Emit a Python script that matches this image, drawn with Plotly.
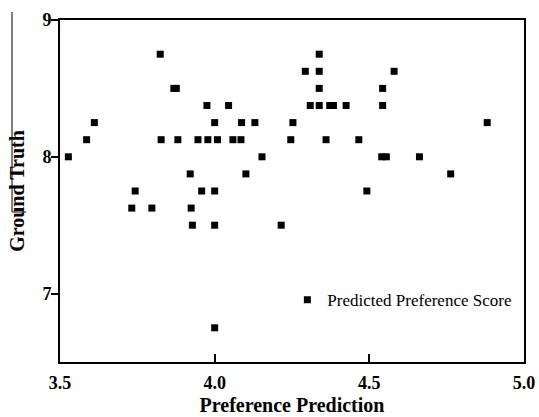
import plotly.graph_objects as go

pred = [3.527, 3.586, 3.611, 3.732, 3.743, 3.797, 3.824, 3.827, 3.868, 3.876,
        3.881, 3.921, 3.924, 3.928, 3.946, 3.958, 3.975, 3.978, 4.0, 4.0,
        4.0, 4.0, 4.009, 4.045, 4.059, 4.085, 4.087, 4.101, 4.13, 4.153,
        4.215, 4.246, 4.253, 4.293, 4.309, 4.338, 4.338, 4.338, 4.338, 4.36,
        4.372, 4.384, 4.425, 4.466, 4.492, 4.543, 4.543, 4.54, 4.555, 4.58,
        4.662, 4.763, 4.881]
truth = [8.0, 8.125, 8.25, 7.625, 7.75, 7.625, 8.75, 8.125, 8.5, 8.5,
         8.125, 7.875, 7.625, 7.5, 8.125, 7.75, 8.375, 8.125, 8.25, 7.75,
         7.5, 6.75, 8.125, 8.375, 8.125, 8.125, 8.25, 7.875, 8.25, 8.0,
         7.5, 8.125, 8.25, 8.625, 8.375, 8.75, 8.625, 8.5, 8.375, 8.125,
         8.375, 8.375, 8.375, 8.125, 7.75, 8.5, 8.375, 8.0, 8.0, 8.625,
         8.0, 7.875, 8.25]

x_ticks = [3.5, 4.0, 4.5, 5.0]
x_tick_text = ["3.5", "4.0", "4.5", "5.0"]
y_ticks = [7, 8, 9]
y_tick_text = ["7", "8", "9"]

fig = go.Figure()
fig.add_trace(go.Scatter(
    x=pred, y=truth, mode="markers", name="Predicted Preference Score",
    marker=dict(symbol="square", size=7, color="black", line=dict(width=0)),
))

serif = "Liberation Serif, Times New Roman, serif"
fig.update_layout(
    width=539, height=417,
    margin=dict(l=60, r=15, t=20, b=55),
    paper_bgcolor="white", plot_bgcolor="white",
    font=dict(family=serif, color="black"),
    showlegend=True,
    legend=dict(x=0.49, y=0.181, xanchor="left", yanchor="middle",
                bgcolor="rgba(0,0,0,0)", font=dict(family=serif, size=17, color="black")),
    xaxis=dict(range=[3.5, 5.0], tickvals=x_ticks,
               ticktext=["<b>" + t + "</b>" for t in x_tick_text],
               ticks="inside", ticklen=8, tickwidth=2, tickcolor="black",
               showline=True, linewidth=2, linecolor="black", mirror=True,
               showgrid=False, zeroline=False, ticklabelstandoff=3, automargin=False,
               tickfont=dict(family=serif, size=18, color="black"),
               title=dict(text="<b>Preference Prediction</b>", standoff=6,
                          font=dict(family=serif, size=20, color="black"))),
    yaxis=dict(range=[6.5, 9.0], tickvals=y_ticks,
               ticktext=["<b>" + t + "</b>" for t in y_tick_text],
               ticks="outside", ticklen=7, tickwidth=2, tickcolor="black",
               showline=True, linewidth=2, linecolor="black", mirror=True,
               showgrid=False, zeroline=False, automargin=False,
               ticklabelstandoff=-4,
               tickfont=dict(family=serif, size=18, color="black"),
               title=dict(text="<b>Ground Truth</b>", standoff=12,
                          font=dict(family=serif, size=20, color="black"))),
    shapes=[
        dict(type="line", xref="paper", yref="paper", x0=-0.1034, x1=-0.1034,
             y0=1.0234, y1=0.4386, line=dict(color="black", width=1)),
        dict(type="line", xref="paper", yref="paper", x0=-0.1034, x1=-0.0733,
             y0=0.4386, y1=0.4386, line=dict(color="black", width=1)),
    ],
)

fig.write_html("out.html", config={"displayModeBar": False},
               post_script="document.body.style.margin='0';")
